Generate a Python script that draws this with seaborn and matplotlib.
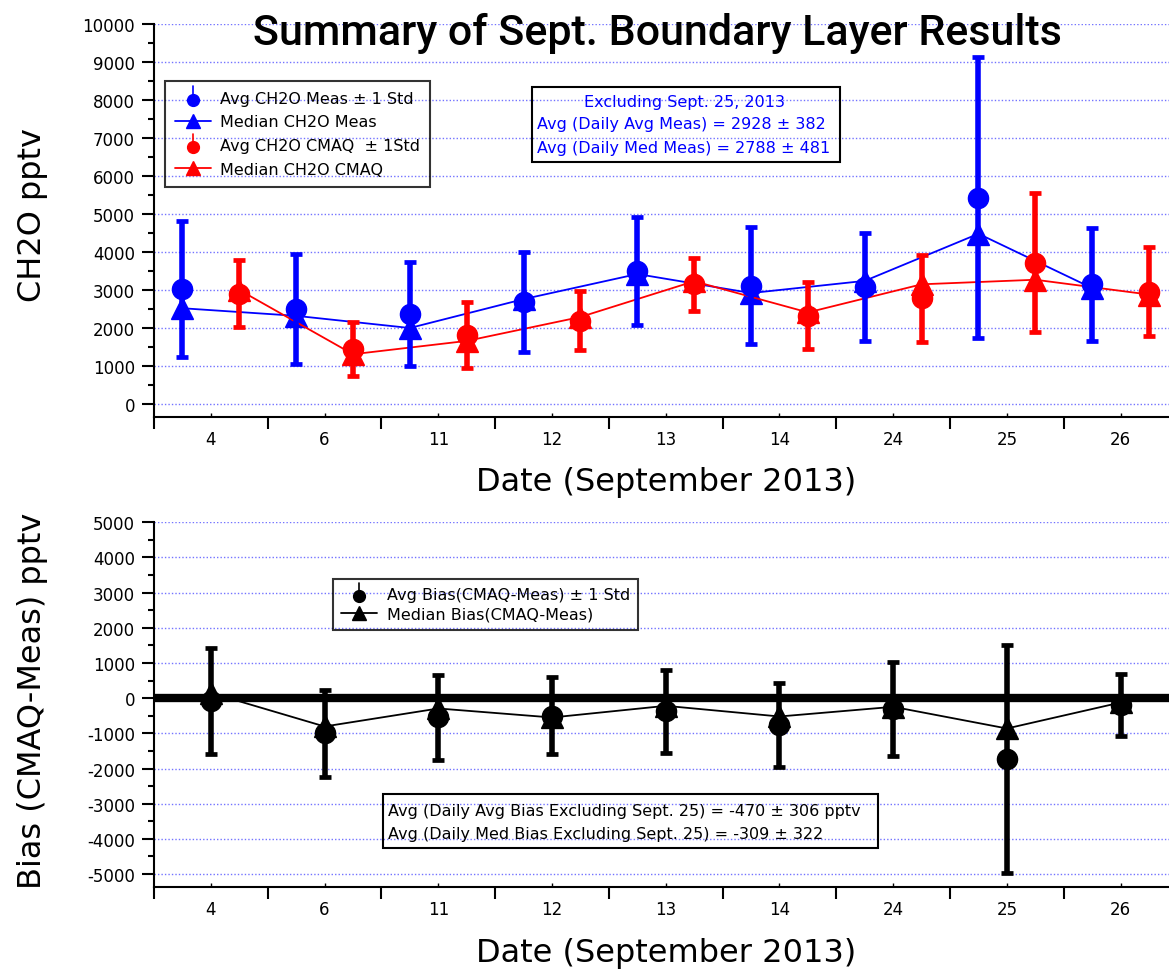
import numpy as np
import pandas as pd
import matplotlib
matplotlib.use("Agg")
import matplotlib.pyplot as plt
import seaborn as sns
from matplotlib.lines import Line2D
from matplotlib.patches import Rectangle
from matplotlib.legend_handler import HandlerBase

# ---------------- data ----------------
dates = ["4", "6", "11", "12", "13", "14", "24", "25", "26"]

meas_avg = [3030, 2500, 2370, 2690, 3500, 3110, 3070, 5430, 3150]
meas_std = [1785, 1443, 1373, 1312, 1412, 1544, 1421, 3698, 1487]
meas_med = [2520, 2320, 2000, 2760, 3420, 2920, 3240, 4480, 3050]

cmaq_avg = [2900, 1450, 1810, 2190, 3150, 2320, 2780, 3720, 2950]
cmaq_std = [877, 702, 864, 777, 693, 878, 1154, 1834, 1171]
cmaq_med = [3000, 1310, 1660, 2290, 3230, 2410, 3150, 3270, 2880]

bias_avg = [-90, -1000, -545, -497, -370, -772, -303, -1733, -190]
bias_std = [1510, 1231, 1207, 1103, 1175, 1198, 1335, 3248, 886]
bias_med = [150, -805, -293, -549, -218, -521, -246, -862, -123]

BLUE = "#0000ff"
RED = "#ff0000"
GRID = "#7373ff"

sns.set_theme(style="ticks")
plt.rcParams["font.family"] = ["DejaVu Sans"]
plt.rcParams["axes.unicode_minus"] = False
plt.rcParams["text.color"] = "black"
plt.rcParams["axes.labelcolor"] = "black"
plt.rcParams["xtick.color"] = "black"
plt.rcParams["ytick.color"] = "black"

W, H = 1169, 970
fig = plt.figure(figsize=(W / 100, H / 100), dpi=100)


def fx(px):
    return px / W


def fy(py):
    return 1 - py / H


ax1 = fig.add_axes([fx(154), fy(418.3), (1177.5 - 154) / W, (418.3 - 25) / H])
ax2 = fig.add_axes([fx(154), fy(887.7), (1177.5 - 154) / W, (887.7 - 523.3) / H])


class StemDotHandler(HandlerBase):
    """Legend glyph: a dot with a short vertical stem above it."""

    def create_artists(self, legend, orig_handle, xdescent, ydescent,
                       width, height, fontsize, trans):
        cx = 0.5 * width - xdescent
        cy = 0.5 * height - ydescent
        color = orig_handle.get_color()
        stem = Line2D([cx, cx], [cy - 0.2 * height, cy + 0.95 * height],
                      color=color, lw=1.2, transform=trans)
        dot = Line2D([cx], [cy - 0.25 * height], marker="o",
                     ms=orig_handle.get_markersize(), color=color,
                     linestyle="none", transform=trans)
        return [stem, dot]


def style_axes(ax, ymin, ymax, yrange):
    ax.set_xlim(-0.5, len(dates) - 0.5)
    ax.set_ylim(ymin, ymax)
    ax.set_xticks(np.arange(len(dates)))
    ax.set_xticklabels(dates)
    ax.set_xticks(np.arange(-0.5, len(dates), 1.0), minor=True)
    ax.set_yticks(np.arange(yrange[0], yrange[1] + 1, 1000))
    ax.set_yticks(np.arange(yrange[0], yrange[1] + 1, 500), minor=True)
    ax.tick_params(axis="x", which="major", direction="in", length=3,
                   width=1, pad=9.5, labelsize=12)
    ax.tick_params(axis="x", which="minor", direction="out", length=8.6,
                   width=1.5)
    ax.tick_params(axis="y", which="major", direction="out", length=8.6,
                   width=1.5, pad=5, labelsize=12)
    ax.tick_params(axis="y", which="minor", direction="out", length=4.3,
                   width=1.5)
    for side in ("top", "right"):
        ax.spines[side].set_visible(False)
    for side in ("left", "bottom"):
        ax.spines[side].set_linewidth(1.5)
        ax.spines[side].set_color("black")
    ax.yaxis.grid(True, which="major", color=GRID, linestyle=(0, (1, 1.5)),
                  linewidth=1)
    ax.set_axisbelow(True)
    ax.set_facecolor("white")


x = np.arange(len(dates))
err_style = dict(fmt="o", ms=14.5, elinewidth=4, capsize=4, capthick=3.4,
                 zorder=3)

# ---------------- top panel: CH2O ----------------
ax1.errorbar(x - 0.25, meas_avg, yerr=meas_std, color=BLUE, **err_style)
ax1.errorbar(x + 0.25, cmaq_avg, yerr=cmaq_std, color=RED, **err_style)

top_df = pd.DataFrame({
    "date": dates * 2,
    "series": ["Meas"] * len(dates) + ["CMAQ"] * len(dates),
    "median": meas_med + cmaq_med,
})
sns.pointplot(data=top_df, x="date", y="median", hue="series", order=dates,
              hue_order=["Meas", "CMAQ"], palette={"Meas": BLUE, "CMAQ": RED},
              dodge=0.5, markers="^", linestyles="-", errorbar=None,
              legend=False, ax=ax1, markersize=16, linewidth=1.3)

style_axes(ax1, -350, 10000, (0, 10000))
ax1.set_xlabel("Date (September 2013)", fontsize=23)
ax1.xaxis.set_label_coords(0.5, (418.3 - 466.7) / (418.3 - 25))
ax1.set_ylabel("CH2O pptv", fontsize=23)
ax1.yaxis.set_label_coords((48 - 154) / 1023.5, (418.3 - 215) / 393.3)

top_handles = [
    Line2D([], [], color=BLUE, marker="o", ms=8.5, linestyle="none"),
    Line2D([], [], color=BLUE, marker="^", ms=10, lw=1.3),
    Line2D([], [], color=RED, marker="o", ms=8.5, linestyle="none"),
    Line2D([], [], color=RED, marker="^", ms=10, lw=1.3),
]
top_labels = ["Avg CH2O Meas \u00b1 1 Std", "Median CH2O Meas",
              "Avg CH2O CMAQ  \u00b1 1Std", "Median CH2O CMAQ"]
leg1 = ax1.legend(top_handles, top_labels, loc="upper left",
                  bbox_to_anchor=(fx(165), fy(82)),
                  bbox_transform=fig.transFigure, borderaxespad=0,
                  fontsize=11.5, handlelength=2.25, handletextpad=0.6,
                  labelspacing=0.55, borderpad=0.6, fancybox=False,
                  frameon=True, edgecolor="black", facecolor="none",
                  handler_map={top_handles[0]: StemDotHandler(),
                               top_handles[2]: StemDotHandler()})
leg1.get_frame().set_linewidth(1.5)

# summary box, top panel
fig.add_artist(Rectangle((fx(532), fy(163)), (840 - 532) / W, (163 - 88) / H,
                         transform=fig.transFigure, fill=False,
                         edgecolor="black", lw=1.5))
fig.text(fx(684), fy(103), "Excluding Sept. 25, 2013", color=BLUE,
         fontsize=11.5, ha="center", va="center")
fig.text(fx(537), fy(125), "Avg (Daily Avg Meas) = 2928 \u00b1 382",
         color=BLUE, fontsize=11.5, ha="left", va="center")
fig.text(fx(537), fy(148), "Avg (Daily Med Meas) = 2788 \u00b1 481",
         color=BLUE, fontsize=11.5, ha="left", va="center")

# ---------------- bottom panel: bias ----------------
ax2.axhline(0, color="black", lw=6, zorder=2)
ax2.errorbar(x, bias_avg, yerr=bias_std, color="black", **err_style)
bias_df = pd.DataFrame({"date": dates, "median": bias_med})
sns.pointplot(data=bias_df, x="date", y="median", order=dates, color="black",
              markers="^", linestyles="-", errorbar=None, ax=ax2,
              markersize=16, linewidth=1.3)

style_axes(ax2, -5360, 5000, (-5000, 5000))
ax2.set_xlabel("Date (September 2013)", fontsize=23)
ax2.xaxis.set_label_coords(0.5, (887.7 - 938.5) / (887.7 - 523.3))
ax2.set_ylabel("Bias (CMAQ-Meas) pptv", fontsize=23)
ax2.yaxis.set_label_coords((48 - 154) / 1023.5, (887.7 - 700.5) / 364.4)

bot_handles = [
    Line2D([], [], color="black", marker="o", ms=8.5, linestyle="none"),
    Line2D([], [], color="black", marker="^", ms=10, lw=1.3),
]
bot_labels = ["Avg Bias(CMAQ-Meas) \u00b1 1 Std", "Median Bias(CMAQ-Meas)"]
leg2 = ax2.legend(bot_handles, bot_labels, loc="upper left",
                  bbox_to_anchor=(fx(333), fy(580)),
                  bbox_transform=fig.transFigure, borderaxespad=0,
                  fontsize=11.5, handlelength=2.25, handletextpad=0.6,
                  labelspacing=0.3, borderpad=0.5, fancybox=False,
                  frameon=True, edgecolor="black", facecolor="none",
                  handler_map={bot_handles[0]: StemDotHandler()})
leg2.get_frame().set_linewidth(1.5)

fig.add_artist(Rectangle((fx(383), fy(849)), (877.5 - 383) / W, (849 - 795) / H,
                         transform=fig.transFigure, fill=False,
                         edgecolor="black", lw=1.5))
fig.text(fx(388), fy(811.5),
         "Avg (Daily Avg Bias Excluding Sept. 25) = -470 \u00b1 306 pptv",
         fontsize=11.5, ha="left", va="center")
fig.text(fx(388), fy(834.5),
         "Avg (Daily Med Bias Excluding Sept. 25) = -309 \u00b1 322",
         fontsize=11.5, ha="left", va="center")

# ---------------- title ----------------
fig.text(fx(657.5), fy(45), "Summary of Sept. Boundary Layer Results",
         fontsize=31, family=["Roboto", "DejaVu Sans"], weight="medium",
         ha="center", va="baseline")

fig.savefig("out.png", dpi=100, facecolor="white")
